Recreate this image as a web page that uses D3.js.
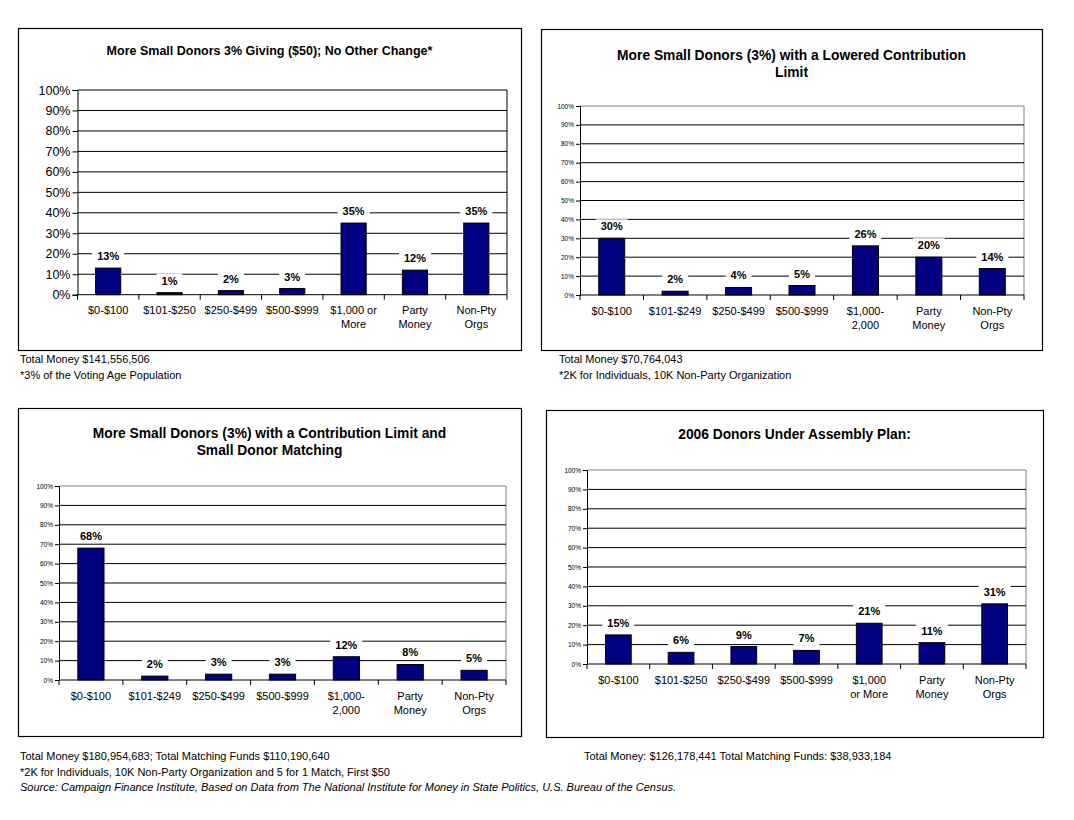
<!DOCTYPE html>
<html>
<head>
<meta charset="utf-8">
<script src="https://cdn.jsdelivr.net/npm/d3@7"></script>
<style>
  body { margin: 0; background: #fff; }
  svg { display: block; font-family: "Liberation Sans", Arial, sans-serif; }
</style>
</head>
<body>
<div id="chart"></div>
<script>
// Data (percent of total money)
const catsA = [["$0-$100"], ["$101-$250"], ["$250-$499"], ["$500-$999"], ["$1,000 or", "More"], ["Party", "Money"], ["Non-Pty", "Orgs"]];
const catsB = [["$0-$100"], ["$101-$249"], ["$250-$499"], ["$500-$999"], ["$1,000-", "2,000"], ["Party", "Money"], ["Non-Pty", "Orgs"]];
const catsC = [["$0-$100"], ["$101-$250"], ["$250-$499"], ["$500-$999"], ["$1,000", "or More"], ["Party", "Money"], ["Non-Pty", "Orgs"]];

const valuesSmallDonors = [13, 1, 2, 3, 35, 12, 35];
const valuesLoweredLimit = [30, 2, 4, 5, 26, 20, 14];
const valuesMatching = [68, 2, 3, 3, 12, 8, 5];
const valuesAssembly = [15, 6, 9, 7, 21, 11, 31];

const yTicks = [0, 10, 20, 30, 40, 50, 60, 70, 80, 90, 100];

const titles = [
  ["More Small Donors 3% Giving ($50); No Other Change*"],
  ["More Small Donors (3%) with a Lowered Contribution", "Limit"],
  ["More Small Donors (3%) with a Contribution Limit and", "Small Donor Matching"],
  ["2006 Donors Under Assembly Plan:"]
];

const notes = [
  {x: 20, y: 363, text: "Total Money $141,556,506"},
  {x: 20, y: 379, text: "*3% of the Voting Age Population"},
  {x: 559, y: 363, text: "Total Money $70,764,043"},
  {x: 559, y: 379, text: "*2K for Individuals, 10K Non-Party Organization"},
  {x: 20, y: 760, text: "Total Money $180,954,683; Total Matching Funds $110,190,640"},
  {x: 584, y: 760, text: "Total Money: $126,178,441 Total Matching Funds: $38,933,184"},
  {x: 20, y: 776, text: "*2K for Individuals, 10K Non-Party Organization and 5 for 1 Match, First $50"},
  {x: 20, y: 791, text: "Source: Campaign Finance Institute, Based on Data from The National Institute for Money in State Politics, U.S. Bureau of the Census.", italic: true}
];

const width = 1074;
const height = 820;
const barColor = "#000080";

const svg = d3.select("#chart").append("svg")
    .attr("width", width)
    .attr("height", height);

// Panel layout (frame box, plot box, title position)
const panels = [
  {frame: [18, 28, 521, 350], plot: [77.5, 90, 507, 294.7], titleY: 50.7, titleSize: 12.5, cats: catsA, values: valuesSmallDonors, title: titles[0], tickFont: 12.5, tickLen: 5, edge: "#000"},
  {frame: [541, 29, 1042, 350], plot: [580, 106, 1024, 295], titleY: 55, titleSize: 13.8, cats: catsB, values: valuesLoweredLimit, title: titles[1], tickFont: 6.5, tickLen: 4, edge: "#808080"},
  {frame: [18, 408, 521, 736], plot: [59, 486, 506, 680], titleY: 433, titleSize: 13.8, cats: catsB, values: valuesMatching, title: titles[2], tickFont: 6.5, tickLen: 4, edge: "#808080"},
  {frame: [546, 410, 1043, 737], plot: [587, 470, 1026, 664], titleY: 434, titleSize: 13.8, cats: catsC, values: valuesAssembly, title: titles[3], tickFont: 6.5, tickLen: 4, edge: "#808080"}
];

panels.forEach(drawPanel);

function drawPanel(p) {
    const [fx0, fy0, fx1, fy1] = p.frame;
    const [px0, py0, px1, py1] = p.plot;
    const g = svg.append("g");

    // outer frame
    g.append("rect")
        .attr("x", fx0 + 0.5).attr("y", fy0 + 0.5)
        .attr("width", fx1 - fx0).attr("height", fy1 - fy0)
        .attr("fill", "none").attr("stroke", "#000").attr("stroke-width", 1.2);

    // title
    const t = g.append("text")
        .attr("x", (fx0 + fx1) / 2)
        .attr("text-anchor", "middle")
        .attr("font-weight", "bold")
        .attr("font-size", p.titleSize);
    p.title.forEach((line, i) => {
        t.append("tspan")
            .attr("x", (fx0 + fx1) / 2)
            .attr("y", p.titleY + 4.5 + i * 17)
            .text(line);
    });

    const x = d3.scaleBand()
        .domain(d3.range(p.values.length))
        .range([px0, px1])
        .padding(0);
    const y = d3.scaleLinear().domain([0, 100]).range([py1, py0]);

    // plot area right/top edge
    g.append("path")
        .attr("d", `M${px0},${y(100)}H${px1}V${py1}`)
        .attr("fill", "none")
        .attr("stroke", p.edge)
        .attr("stroke-width", 1);

    // gridlines
    g.append("g")
        .selectAll("line")
        .data(yTicks.filter(d => d > 0 && d < 100))
        .join("line")
        .attr("x1", px0).attr("x2", px1)
        .attr("y1", d => y(d)).attr("y2", d => y(d))
        .attr("stroke", "#000").attr("stroke-width", 1);

    // y axis
    const yAxis = g.append("g")
        .attr("transform", `translate(${px0},0)`)
        .call(d3.axisLeft(y).tickValues(yTicks).tickFormat(d => d + "%").tickSize(p.tickLen).tickPadding(2));
    yAxis.select(".domain").attr("stroke", "#000");
    yAxis.selectAll(".tick line").attr("stroke", "#000");
    yAxis.selectAll("text")
        .attr("font-size", p.tickFont)
        .attr("font-family", "'Liberation Sans', Arial, sans-serif")
        .attr("fill", "#000");

    // bars
    const bw = x.bandwidth() * 0.41;
    g.append("g")
        .selectAll("rect")
        .data(p.values)
        .join("rect")
        .attr("x", (d, i) => x(i) + (x.bandwidth() - bw) / 2)
        .attr("y", d => y(d))
        .attr("width", bw)
        .attr("height", d => y(0) - y(d))
        .attr("fill", barColor)
        .attr("stroke", "#000")
        .attr("stroke-width", 1);

    // value labels with white backing
    const lab = g.append("g")
        .selectAll("g")
        .data(p.values)
        .join("g")
        .attr("transform", (d, i) => `translate(${x(i) + x.bandwidth() / 2},${y(d) - 12})`);
    lab.append("rect")
        .attr("x", d => -(String(d).length * 6.1 + 9.8) / 2 - 5)
        .attr("y", -7)
        .attr("width", d => String(d).length * 6.1 + 9.8 + 10)
        .attr("height", 14)
        .attr("fill", "#fff");
    lab.append("text")
        .attr("text-anchor", "middle")
        .attr("dy", "0.36em")
        .attr("font-size", 11)
        .attr("font-weight", "bold")
        .text(d => d + "%");

    // x axis line and boundary ticks
    g.append("line")
        .attr("x1", px0).attr("x2", px1)
        .attr("y1", py1).attr("y2", py1)
        .attr("stroke", "#000");
    g.append("g")
        .selectAll("line")
        .data(d3.range(p.values.length + 1))
        .join("line")
        .attr("x1", i => i < p.values.length ? x(i) : px1)
        .attr("x2", i => i < p.values.length ? x(i) : px1)
        .attr("y1", py1).attr("y2", py1 + 5)
        .attr("stroke", "#000");

    // category labels
    const cl = g.append("g")
        .selectAll("text")
        .data(p.cats)
        .join("text")
        .attr("text-anchor", "middle")
        .attr("font-size", 11);
    cl.each(function (lines, i) {
        const el = d3.select(this);
        lines.forEach((line, k) => {
            el.append("tspan")
                .attr("x", x(i) + x.bandwidth() / 2)
                .attr("y", py1 + 19.5 + k * 14)
                .text(line);
        });
    });
}

// footnotes
svg.append("g")
    .selectAll("text")
    .data(notes)
    .join("text")
    .attr("x", d => d.x)
    .attr("y", d => d.y)
    .attr("font-size", 11)
    .attr("font-style", d => d.italic ? "italic" : "normal")
    .text(d => d.text);
</script>
</body>
</html>
